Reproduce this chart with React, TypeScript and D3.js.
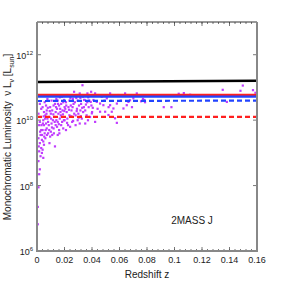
import React from 'react';
import * as d3 from 'd3';

// redshift z, log10 of monochromatic luminosity (L_sun)
const galaxies: [number, number][] = [
  [0.0005, 6.82], [0.0005, 7.35], [0.001, 7.95], [0.0015, 8.35], [0.002, 8.5], [0.001, 8.75],
  [0.0025, 8.9], [0.0015, 9.05], [0.003, 9.15], [0.002, 9.3], [0.001, 9.45], [0.0025, 9.55],
  [0.003, 9.7], [0.0015, 9.85], [0.002, 9.95], [0.0025, 10.1], [0.001, 10.2], [0.003, 10.35],
  [0.002, 10.5], [0.0035, 9.0], [0.0035, 9.4], [0.0012, 9.2], [0.0022, 9.65], [0.0032, 9.85],
  [0.004, 9.1], [0.005, 9.25], [0.0045, 9.35], [0.006, 9.45], [0.0055, 9.6], [0.004, 9.7],
  [0.007, 9.75], [0.005, 9.85], [0.0065, 9.9], [0.0045, 10.0], [0.0075, 10.05], [0.006, 10.15],
  [0.005, 10.25], [0.007, 10.3], [0.004, 10.4], [0.0065, 10.45], [0.0055, 10.55], [0.0075, 10.65],
  [0.008, 9.6], [0.008, 9.95], [0.0035, 9.55], [0.0045, 8.85], [0.0052, 9.5], [0.0062, 9.7],
  [0.0072, 9.55], [0.0042, 9.9], [0.0058, 10.05], [0.0068, 10.2], [0.0048, 10.12], [0.0078, 10.38],
  [0.009, 9.3], [0.0095, 9.5], [0.01, 9.65], [0.011, 9.55], [0.012, 9.75], [0.0085, 9.85],
  [0.0105, 9.9], [0.013, 9.2], [0.0115, 10.0], [0.009, 10.1], [0.0125, 10.1], [0.01, 10.2],
  [0.0135, 10.25], [0.011, 10.3], [0.0095, 10.4], [0.012, 10.45], [0.013, 10.5], [0.0105, 10.6],
  [0.014, 10.65], [0.0115, 10.75], [0.0135, 9.85], [0.014, 10.0], [0.0088, 9.7], [0.0108, 9.78],
  [0.0122, 9.6], [0.0092, 10.28], [0.0118, 10.18], [0.0128, 9.95], [0.0102, 10.05], [0.0138, 10.4],
  [0.015, 9.55], [0.016, 9.7], [0.0145, 9.8], [0.0175, 9.85], [0.019, 9.75], [0.015, 9.95],
  [0.0165, 10.05], [0.018, 10.1], [0.0195, 10.0], [0.0155, 10.2], [0.017, 10.25], [0.0185, 10.3],
  [0.0145, 10.35], [0.016, 10.45], [0.0175, 10.5], [0.019, 10.55], [0.015, 10.6], [0.0165, 10.7],
  [0.018, 10.72], [0.0196, 10.62], [0.02, 10.4], [0.0158, 9.88], [0.0172, 10.15], [0.0188, 10.18],
  [0.0152, 10.5], [0.0168, 10.35], [0.0182, 9.95], [0.0198, 10.28], [0.0162, 9.6],
  [0.021, 9.7], [0.0225, 9.85], [0.024, 9.8], [0.0255, 9.95], [0.02, 10.0], [0.022, 10.05],
  [0.0235, 10.15], [0.026, 10.1], [0.0215, 10.25], [0.025, 10.3], [0.0205, 10.35], [0.0228, 10.4],
  [0.0245, 10.45], [0.0265, 10.5], [0.021, 10.55], [0.0235, 10.6], [0.026, 10.65], [0.022, 10.77],
  [0.0269, 10.87], [0.025, 10.75], [0.027, 10.2], [0.0218, 9.92], [0.0248, 10.12], [0.0232, 10.32],
  [0.0258, 10.4], [0.0212, 10.45], [0.0242, 10.68], [0.0262, 9.98],
  [0.028, 9.85], [0.0295, 10.0], [0.031, 9.9], [0.0325, 10.05], [0.028, 10.15], [0.03, 10.2],
  [0.0315, 10.3], [0.0335, 10.25], [0.029, 10.35], [0.0305, 10.45], [0.032, 10.5], [0.0275, 10.55],
  [0.0295, 10.6], [0.0315, 10.68], [0.0333, 10.72], [0.0293, 10.77], [0.031, 10.82], [0.033, 11.07],
  [0.0345, 10.62], [0.034, 10.4], [0.0288, 10.28], [0.0302, 10.08], [0.0328, 10.38], [0.0285, 10.68],
  [0.0318, 10.12],
  [0.035, 9.9], [0.037, 10.0], [0.036, 10.15], [0.0385, 10.1], [0.04, 10.25], [0.035, 10.3],
  [0.0375, 10.4], [0.0395, 10.45], [0.0365, 10.55], [0.038, 10.6], [0.0342, 10.62], [0.039, 10.56],
  [0.041, 10.62], [0.0366, 10.82], [0.0393, 10.87], [0.0398, 10.21], [0.0422, 9.95], [0.0422, 10.82],
  [0.0355, 10.48], [0.0372, 10.7], [0.0405, 10.38],
  [0.0434, 10.56], [0.0446, 10.77], [0.0458, 10.51], [0.0458, 10.26], [0.047, 10.72], [0.0482, 10.46],
  [0.0495, 10.26], [0.0507, 10.67], [0.0519, 10.16], [0.0531, 10.82], [0.0531, 10.46], [0.0543, 10.26],
  [0.044, 10.35], [0.049, 10.6], [0.052, 10.4],
  [0.0555, 10.36], [0.0567, 10.06], [0.058, 9.92], [0.058, 10.51], [0.0591, 10.77], [0.0628, 10.36],
  [0.064, 10.82], [0.0652, 10.46], [0.0664, 10.56], [0.0676, 10.61], [0.07, 10.67], [0.0725, 10.82],
  [0.061, 10.6], [0.069, 10.4],
  [0.0756, 10.58], [0.077, 10.65], [0.078, 10.62], [0.0785, 10.55], [0.0921, 10.4], [0.0977, 10.4],
  [0.103, 10.81], [0.1067, 10.83], [0.1113, 10.78], [0.135, 10.93], [0.138, 10.56], [0.1479, 10.9],
  [0.1496, 11.06], [0.157, 10.92], [0.1588, 10.84],
];

// limit curves, sampled at the two ends of the z range
const lineZ = [0, 0.16];
const blackSolid = [1.47e11, 1.6e11];
const redSolid = [5.9e10, 5.9e10];
const blueSolid = [5.25e10, 5.25e10];
const blueDashed = [3.85e10, 3.95e10];
const redDashed = [1.25e10, 1.25e10];

const xTicks = [0, 0.02, 0.04, 0.06, 0.08, 0.1, 0.12, 0.14, 0.16];
const xTickLabels = ['0', '0.02', '0.04', '0.06', '0.08', '0.1', '0.12', '0.14', '0.16'];
const yTicks = [1e6, 1e8, 1e10, 1e12];
const yTickExps = ['6', '8', '10', '12'];

const W = 284;
const H = 284;
const left = 37, right = 257, top = 22, bottom = 251;
const font = 'Liberation Sans, Arial, sans-serif';

export default function App() {
  const x = d3.scaleLinear().domain([0, 0.16]).range([left, right]);
  const y = d3.scaleLog().domain([1e6, 1e13]).range([bottom, top]);
  const minorX = d3.range(0, 0.1601, 0.004);

  const line = d3.line<number>()
    .x((_, i) => x(lineZ[i]))
    .y(d => y(d));

  const curves = [
    { v: redDashed, c: '#ff1f1f', dash: '5,3' },
    { v: blueDashed, c: '#2244ff', dash: '5,3' },
    { v: redSolid, c: '#ff1f1f', dash: null },
    { v: blueSolid, c: '#2244ff', dash: null },
    { v: blackSolid, c: '#000', dash: null },
  ];

  return (
    <svg width={W} height={H} style={{ position: 'absolute', left: 0, top: 0, background: '#fff' }}>
      <defs>
        <clipPath id="plot">
          <rect x={left} y={top} width={right - left} height={bottom - top} />
        </clipPath>
      </defs>

      <g clipPath="url(#plot)">
        {galaxies.map((d, i) => (
          <rect key={i} x={x(d[0]) - 1} y={y(Math.pow(10, d[1])) - 1} width={2.2} height={2.2} fill="#c03cff" />
        ))}
        {curves.map((c, i) => (
          <path key={i} d={line(c.v) || ''} fill="none" stroke={c.c}
            strokeWidth={c.c === '#000' ? 2.5 : 2.2}
            strokeDasharray={c.dash || undefined} />
        ))}
      </g>

      {/* ticks */}
      {minorX.map((t, i) => (
        <g key={i} stroke="#555" strokeWidth={0.8}>
          <line x1={x(t)} x2={x(t)} y1={bottom} y2={bottom - 2} />
          <line x1={x(t)} x2={x(t)} y1={top} y2={top + 2} />
        </g>
      ))}
      {xTicks.map((t, i) => (
        <g key={i} stroke="#555" strokeWidth={0.8}>
          <line x1={x(t)} x2={x(t)} y1={bottom} y2={bottom - 4} />
          <line x1={x(t)} x2={x(t)} y1={top} y2={top + 4} />
        </g>
      ))}
      {yTicks.map((t, i) => (
        <g key={i} stroke="#555" strokeWidth={0.8}>
          <line x1={left} x2={left + 4} y1={y(t)} y2={y(t)} />
          <line x1={right} x2={right - 4} y1={y(t)} y2={y(t)} />
        </g>
      ))}

      {/* frame */}
      <line x1={left} x2={right} y1={top} y2={top} stroke="#333" strokeWidth={1} />
      <line x1={left} x2={left} y1={top} y2={bottom} stroke="#888" strokeWidth={2} />
      <line x1={right} x2={right} y1={top} y2={bottom} stroke="#888" strokeWidth={2} />
      <line x1={left - 1} x2={right + 1} y1={bottom} y2={bottom} stroke="#888" strokeWidth={2} />

      {xTicks.map((t, i) => (
        <text key={i} x={x(t)} y={263} fontSize={9} fontFamily={font} textAnchor="middle" fill="#222">
          {xTickLabels[i]}
        </text>
      ))}
      {yTicks.map((t, i) => (
        <text key={i} x={33} y={y(t) + 4} fontSize={9} fontFamily={font} textAnchor="end" fill="#222">
          10<tspan fontSize={6} dy={-4}>{yTickExps[i]}</tspan>
        </text>
      ))}

      <text x={147} y={278} fontSize={10} fontFamily={font} textAnchor="middle" fill="#222">Redshift z</text>
      <text x={192} y={224} fontSize={10} fontFamily={font} textAnchor="middle" fill="#222">2MASS J</text>
      <text transform="translate(11,137) rotate(-90)" fontSize={10} fontFamily={font} textAnchor="middle" fill="#222">
        Monochromatic Luminosity {'\u00a0'}ν L<tspan fontSize={7} dy={3}>ν</tspan>
        <tspan dy={-3}> [L</tspan><tspan fontSize={7} dy={3}>sun</tspan><tspan dy={-3}>]</tspan>
      </text>
    </svg>
  );
}
